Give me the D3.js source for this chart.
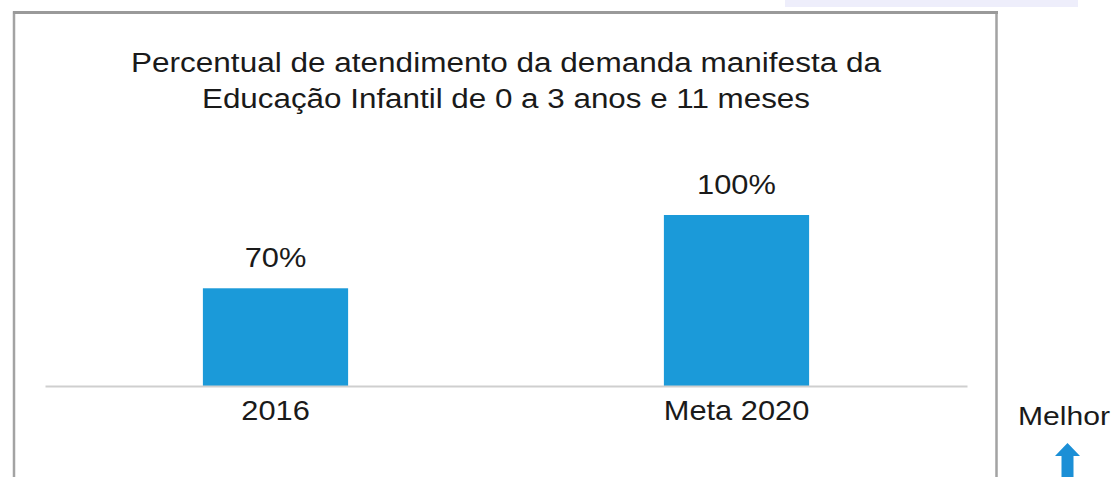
<!DOCTYPE html>
<html>
<head>
<meta charset="utf-8">
<script src="https://cdn.jsdelivr.net/npm/d3@7"></script>
<style>
  html, body { margin: 0; padding: 0; background: #fff; }
  svg { display: block; }
  text { font-family: "Liberation Sans", Arial, sans-serif; fill: #1a1a1a; }
</style>
</head>
<body>
<svg id="chart" width="1113" height="477"></svg>
<script>
const categories = ["2016", "Meta 2020"];
const values = [70, 100];
const valueLabels = ["70%", "100%"];
const titleLines = ["Percentual de atendimento da demanda manifesta da",
                    "Educação Infantil de 0 a 3 anos e 11 meses"];
const sideLabel = "Melhor";

const svg = d3.select("#chart");

function stretch(sel, k) {
  sel.each(function () {
    const w = this.getComputedTextLength();
    d3.select(this).attr("textLength", w * k).attr("lengthAdjust", "spacingAndGlyphs");
  });
}

// light strip at top right
svg.append("rect").attr("x", 785).attr("y", 0).attr("width", 293).attr("height", 7)
  .attr("fill", "#eeeefb");

// frame
svg.append("path")
  .attr("d", "M14,477 L14,12.5 L996.5,12.5 L996.5,477")
  .attr("fill", "none").attr("stroke", "#a3a3a3").attr("stroke-width", 2.5);
svg.append("line").attr("x1", 13).attr("x2", 998).attr("y1", 12.5).attr("y2", 12.5)
  .attr("stroke", "#9a9a9a").attr("stroke-width", 3);

// title
const titleLens = [750, 608];
const titleY = [72, 108];
titleLines.forEach((t, i) => {
  svg.append("text").attr("x", 506).attr("y", titleY[i])
    .attr("text-anchor", "middle").attr("font-size", 27)
    .attr("textLength", titleLens[i]).attr("lengthAdjust", "spacingAndGlyphs")
    .text(t);
});

const x = d3.scaleBand().domain(categories).range([45, 967])
  .paddingInner(0.685).paddingOuter(0.3425);
const y = d3.scaleLinear().domain([30, 100]).range([386, 215]);

const data = categories.map((c, i) => ({ c, v: values[i], l: valueLabels[i] }));

svg.selectAll("rect.bar").data(data).join("rect").attr("class", "bar")
  .attr("x", d => x(d.c)).attr("width", x.bandwidth())
  .attr("y", d => y(d.v)).attr("height", d => y(30) - y(d.v))
  .attr("fill", "#1b9ad9");

// baseline axis
const axis = d3.axisBottom(x).tickSize(0).tickPadding(0);
const gx = svg.append("g").attr("transform", `translate(0,${y(30)})`).call(axis);
gx.select(".domain").attr("stroke", "#cfcfcf").attr("stroke-width", 2);
gx.selectAll(".tick text").attr("font-size", 28).attr("fill", "#1a1a1a")
  .attr("font-family", "Liberation Sans, Arial, sans-serif")
  .attr("dy", null).attr("y", 34).call(stretch, 1.1);

// value labels
svg.selectAll("text.val").data(data).join("text").attr("class", "val")
  .attr("x", d => x(d.c) + x.bandwidth() / 2)
  .attr("y", d => y(d.v) - 21)
  .attr("text-anchor", "middle").attr("font-size", 28)
  .text(d => d.l).call(stretch, 1.1);

// Melhor + arrow
svg.append("text").attr("x", 1018).attr("y", 425).attr("font-size", 26)
  .attr("textLength", 92).attr("lengthAdjust", "spacingAndGlyphs")
  .attr("fill", "#222").text(sideLabel);
svg.append("path")
  .attr("d", "M1067.5,443 L1080,456 L1073.5,456 L1073.5,477 L1061.5,477 L1061.5,456 L1055,456 Z")
  .attr("fill", "#1b8fd6");
</script>
</body>
</html>
